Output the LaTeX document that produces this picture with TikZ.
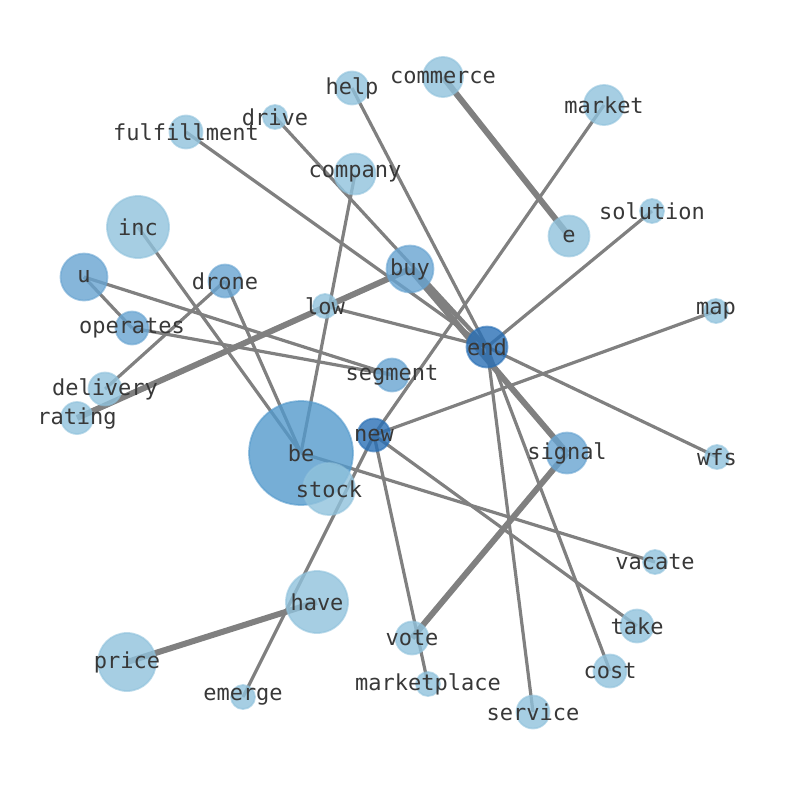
\documentclass[tikz,border=0pt]{standalone}
\usepackage{fontspec}
\setmonofont{DejaVu Sans Mono}
\usetikzlibrary{backgrounds}
\definecolor{lightblue}{RGB}{144,194,220}
\definecolor{midblue}{RGB}{104,164,209}
\definecolor{bigblue}{RGB}{84,154,204}
\definecolor{darkblue}{RGB}{41,111,181}
\tikzstyle{word} = [circle, inner sep=0pt, line width=1.8pt, fill opacity=0.8, draw opacity=0.6]
\tikzstyle{light} = [word, fill=lightblue, draw=lightblue]
\tikzstyle{mid} = [word, fill=midblue, draw=midblue]
\tikzstyle{big} = [word, fill=bigblue, draw=bigblue]
\tikzstyle{dark} = [word, fill=darkblue, draw=darkblue]
\tikzstyle{tag} = [inner sep=0pt, text=black!78, font=\ttfamily\fontsize{22}{22}\selectfont]
\tikzstyle{link} = [line width=3.2pt, color=gray]
\tikzstyle{heavy} = [line width=6pt, color=gray]

\begin{document}
\begin{tikzpicture}[x=1pt, y=-1pt]
\useasboundingbox (0,0) rectangle (794,790);
% word circles
\node (commerce) [light, minimum size=40pt] at (443,77) {};
\node (help) [light, minimum size=33pt] at (352,88) {};
\node (drive) [light, minimum size=24pt] at (275,117) {};
\node (fulfillment) [light, minimum size=33pt] at (186,132) {};
\node (market) [light, minimum size=40pt] at (604,105) {};
\node (company) [light, minimum size=41pt] at (355,174) {};
\node (solution) [light, minimum size=24pt] at (652,211) {};
\node (e) [light, minimum size=41pt] at (569,236) {};
\node (inc) [light, minimum size=62pt] at (138,227) {};
\node (u) [mid, minimum size=47pt] at (84,277) {};
\node (drone) [mid, minimum size=33pt] at (225,281) {};
\node (buy) [mid, minimum size=47pt] at (410,269) {};
\node (low) [light, minimum size=24pt] at (325,306) {};
\node (map) [light, minimum size=24pt] at (716,311) {};
\node (operates) [mid, minimum size=33pt] at (132,328) {};
\node (end) [dark, minimum size=41pt] at (487,347) {};
\node (segment) [mid, minimum size=33pt] at (392,375) {};
\node (delivery) [light, minimum size=33pt] at (105,389) {};
\node (rating) [light, minimum size=32pt] at (77,418) {};
\node (new) [dark, minimum size=33pt] at (374,435) {};
\node (be) [big, minimum size=104pt] at (301,453) {};
\node (signal) [mid, minimum size=41pt] at (567,453) {};
\node (wfs) [light, minimum size=24pt] at (717,457) {};
\node (stock) [light, minimum size=52pt] at (329,489) {};
\node (vacate) [light, minimum size=24pt] at (655,562) {};
\node (have) [light, minimum size=62pt] at (317,602) {};
\node (take) [light, minimum size=33pt] at (637,626) {};
\node (vote) [light, minimum size=33pt] at (412,638) {};
\node (price) [light, minimum size=58pt] at (127,662) {};
\node (cost) [light, minimum size=33pt] at (610,671) {};
\node (emerge) [light, minimum size=24pt] at (243,697) {};
\node (marketplace) [light, minimum size=24pt] at (428,684) {};
\node (service) [light, minimum size=33pt] at (533,712) {};

% links under the circles
\begin{scope}[on background layer]
\draw [link] (help.center) -- (end.center);
\draw [link] (drive.center) -- (end.center);
\draw [link] (fulfillment.center) -- (end.center);
\draw [link] (solution.center) -- (end.center);
\draw [link] (buy.center) -- (end.center);
\draw [link] (low.center) -- (end.center);
\draw [link] (end.center) -- (wfs.center);
\draw [link] (end.center) -- (service.center);
\draw [link] (end.center) -- (cost.center);
\draw [link] (market.center) -- (new.center);
\draw [link] (new.center) -- (map.center);
\draw [link] (new.center) -- (marketplace.center);
\draw [link] (new.center) -- (take.center);
\draw [link] (new.center) -- (emerge.center);
\draw [link] (company.center) -- (be.center);
\draw [link] (inc.center) -- (be.center);
\draw [link] (drone.center) -- (be.center);
\draw [link] (be.center) -- (vacate.center);
\draw [link] (drone.center) -- (delivery.center);
\draw [link] (u.center) -- (operates.center);
\draw [link] (u.center) -- (segment.center);
\draw [link] (operates.center) -- (segment.center);
\draw [heavy] (commerce.center) -- (e.center);
\draw [heavy] (rating.center) -- (buy.center);
\draw [heavy] (buy.center) -- (signal.center);
\draw [heavy] (signal.center) -- (vote.center);
\draw [heavy] (price.center) -- (have.center);
\end{scope}

% words on top
\foreach \w in {commerce,help,drive,fulfillment,market,company,solution,e,inc,u,drone,buy,low,map,operates,end,segment,delivery,rating,new,be,signal,wfs,stock,vacate,have,take,vote,price,cost,emerge,marketplace,service}
  \node [tag] at (\w) {\w};
\end{tikzpicture}
\end{document}
